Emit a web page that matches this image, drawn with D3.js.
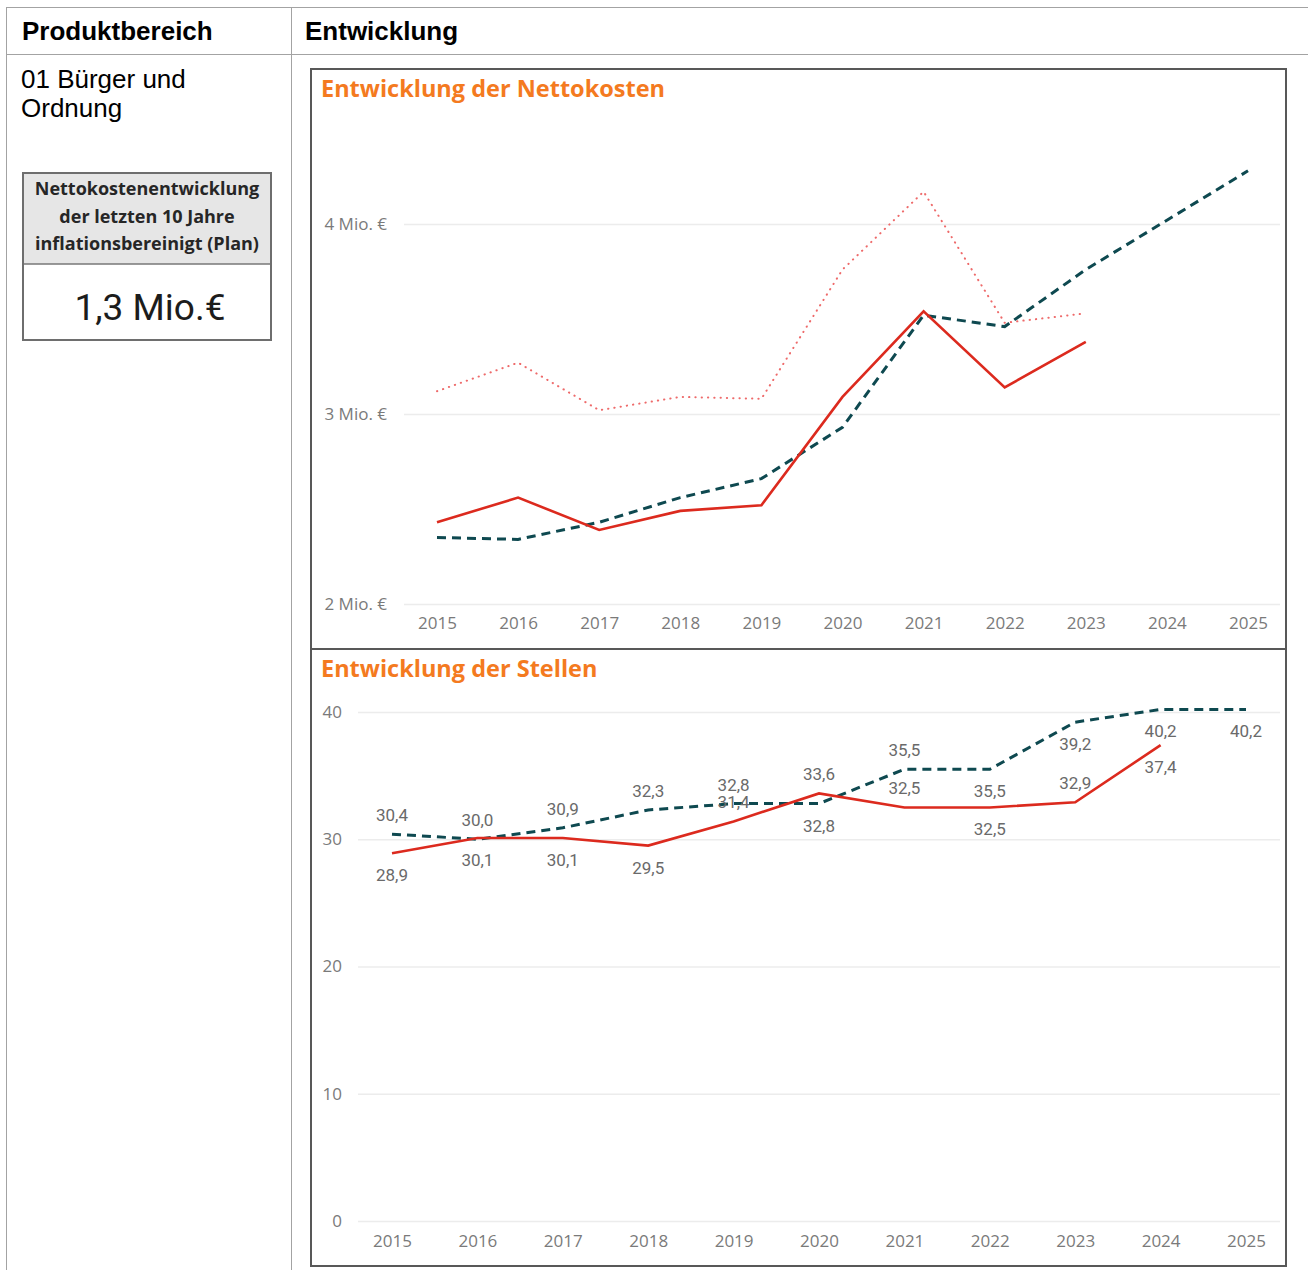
<!DOCTYPE html>
<html>
<head>
<meta charset="utf-8">
<script src="https://cdn.jsdelivr.net/npm/d3@7"></script>
<style>
  body { margin: 0; background: #fff; }
  svg { display: block; }
</style>
</head>
<body>
<div id="chart"></div>
<script>
// values

var years = ["2015", "2016", "2017", "2018", "2019", "2020", "2021", "2022", "2023", "2024", "2025"];

// Nettokosten in Mio. €
var kostenIst = [2.43, 2.56, 2.39, 2.49, 2.52, 3.09, 3.54, 3.14, 3.38];
var kostenPlan = [2.35, 2.34, 2.43, 2.56, 2.66, 2.93, 3.52, 3.46, 3.76, 4.02, 4.28];
var kostenInflation = [3.12, 3.27, 3.02, 3.09, 3.08, 3.76, 4.17, 3.48, 3.53];
var kostenTicks = [2, 3, 4];

// Stellen
var stellenIst = [28.9, 30.1, 30.1, 29.5, 31.4, 33.6, 32.5, 32.5, 32.9, 37.4];
var stellenPlan = [30.4, 30.0, 30.9, 32.3, 32.8, 32.8, 35.5, 35.5, 39.2, 40.2, 40.2];
var stellenTicks = [0, 10, 20, 30, 40];
// where the data labels sit relative to their point
var stellenIstLabelPos = ["below", "below", "below", "below", "above", "above", "above", "below", "above", "below"];
var stellenPlanLabelPos = ["above", "above", "above", "above", "above", "below", "above", "below", "below", "below", "below"];

var kpiTitle = ["Nettokostenentwicklung", "der letzten 10 Jahre", "inflationsbereinigt (Plan)"];
var kpiValue = "1,3 Mio.€";

var WIDTH = 1308, HEIGHT = 1270;
var RED = "#dc2a1e", TEAL = "#0e4950", PINK = "#ee6a6a", ORANGE = "#f47a20";
var GRID = "#ececec", AXIS_TEXT = "#7a7a7a";

var svg = d3.select("#chart").append("svg")
    .attr("width", WIDTH)
    .attr("height", HEIGHT);

// --- table around the charts ---
var tbl = svg.append("g").attr("stroke", "#a3a3a3").attr("stroke-width", 1);
tbl.append("line").attr("x1", 6).attr("x2", WIDTH).attr("y1", 7.5).attr("y2", 7.5);
tbl.append("line").attr("x1", 6).attr("x2", WIDTH).attr("y1", 54.5).attr("y2", 54.5);
tbl.append("line").attr("x1", 6.5).attr("x2", 6.5).attr("y1", 7).attr("y2", HEIGHT);
tbl.append("line").attr("x1", 291.5).attr("x2", 291.5).attr("y1", 7).attr("y2", HEIGHT);

svg.append("text").attr("x", 22).attr("y", 40)
    .style("font", "bold 26px 'Liberation Sans', Arial, sans-serif")
    .text("Produktbereich");
svg.append("text").attr("x", 305).attr("y", 40)
    .style("font", "bold 26px 'Liberation Sans', Arial, sans-serif")
    .text("Entwicklung");
svg.append("text").attr("x", 21).attr("y", 88)
    .style("font", "26px 'Liberation Sans', Arial, sans-serif")
    .text("01 Bürger und");
svg.append("text").attr("x", 21).attr("y", 117)
    .style("font", "26px 'Liberation Sans', Arial, sans-serif")
    .text("Ordnung");

// --- KPI card ---
var kpi = svg.append("g");
kpi.append("rect").attr("x", 23).attr("y", 173).attr("width", 248).attr("height", 91)
    .attr("fill", "#e6e6e6");
kpi.append("line").attr("x1", 23).attr("x2", 271).attr("y1", 264).attr("y2", 264)
    .attr("stroke", "#777").attr("stroke-width", 1.5);
kpi.append("rect").attr("x", 23).attr("y", 173).attr("width", 248).attr("height", 167)
    .attr("fill", "none").attr("stroke", "#6e6e6e").attr("stroke-width", 2);
kpi.selectAll("text.kt").data(kpiTitle).enter().append("text")
    .attr("class", "kt")
    .attr("x", 147)
    .attr("y", function (d, i) { return 195 + i * 27.5; })
    .attr("text-anchor", "middle")
    .attr("fill", "#262626")
    .style("font", "bold 18px 'Open Sans', sans-serif")
    .text(function (d) { return d; });
kpi.append("text").attr("x", 150).attr("y", 320)
    .attr("text-anchor", "middle")
    .attr("fill", "#1c1c1c")
    .style("font", "37px Roboto, sans-serif")
    .text(kpiValue);

// --- chart panels ---
svg.append("rect").attr("x", 311).attr("y", 69).attr("width", 975).attr("height", 580)
    .attr("fill", "none").attr("stroke", "#585858").attr("stroke-width", 2);
svg.append("rect").attr("x", 311).attr("y", 649).attr("width", 975).attr("height", 617)
    .attr("fill", "none").attr("stroke", "#585858").attr("stroke-width", 2);

var drawTitle = function (text, y) {
    svg.append("text").attr("x", 321).attr("y", y)
        .attr("fill", ORANGE)
        .style("font", "bold 23.5px 'Open Sans', sans-serif")
        .text(text);
};

var styleAxis = function (g) {
    g.select(".domain").remove();
    g.selectAll("text")
        .attr("fill", AXIS_TEXT)
        .style("font", "17px 'Open Sans', sans-serif");
};

// chart 1: Nettokosten
drawTitle("Entwicklung der Nettokosten", 97);

var x1 = d3.scalePoint().domain(years).range([437, 1248]);
var y1 = d3.scaleLinear().domain([2, 4]).range([604, 224]);

svg.append("g")
    .attr("transform", "translate(404,0)")
    .call(d3.axisLeft(y1).tickValues(kostenTicks).tickSize(-876).tickPadding(17)
        .tickFormat(function (d) { return d + " Mio. €"; }))
    .call(styleAxis)
    .call(function (g) { g.selectAll("line").attr("stroke", GRID).attr("stroke-width", 1.5); });

svg.append("g")
    .attr("transform", "translate(0,604)")
    .call(d3.axisBottom(x1).tickSize(0).tickPadding(13))
    .call(styleAxis);

var line1 = d3.line()
    .x(function (d, i) { return x1(years[i]); })
    .y(function (d) { return y1(d); });

svg.append("path").datum(kostenInflation)
    .attr("d", line1).attr("fill", "none")
    .attr("stroke", PINK).attr("stroke-width", 2)
    .attr("stroke-linecap", "round")
    .attr("stroke-dasharray", "0.3,6");
svg.append("path").datum(kostenPlan)
    .attr("d", line1).attr("fill", "none")
    .attr("stroke", TEAL).attr("stroke-width", 3)
    .attr("stroke-dasharray", "9,6");
svg.append("path").datum(kostenIst)
    .attr("d", line1).attr("fill", "none")
    .attr("stroke", RED).attr("stroke-width", 2.6)
    .attr("stroke-linejoin", "miter");

// chart 2: Stellen
drawTitle("Entwicklung der Stellen", 677);

var x2 = d3.scalePoint().domain(years).range([392, 1246]);
var y2 = d3.scaleLinear().domain([0, 40]).range([1221, 712]);

svg.append("g")
    .attr("transform", "translate(358,0)")
    .call(d3.axisLeft(y2).tickValues(stellenTicks).tickSize(-922).tickPadding(16))
    .call(styleAxis)
    .call(function (g) { g.selectAll("line").attr("stroke", GRID).attr("stroke-width", 1.5); });

svg.append("g")
    .attr("transform", "translate(0,1221)")
    .call(d3.axisBottom(x2).tickSize(0).tickPadding(14))
    .call(styleAxis);

var line2 = d3.line()
    .x(function (d, i) { return x2(years[i]); })
    .y(function (d) { return y2(d); });

svg.append("path").datum(stellenPlan)
    .attr("d", line2).attr("fill", "none")
    .attr("stroke", TEAL).attr("stroke-width", 3)
    .attr("stroke-dasharray", "9,6");
svg.append("path").datum(stellenIst)
    .attr("d", line2).attr("fill", "none")
    .attr("stroke", RED).attr("stroke-width", 2.6);

var fmt = function (v) { return d3.format(".1f")(v).replace(".", ","); };

var drawLabels = function (values, pos, cls) {
    svg.selectAll("text." + cls).data(values).enter().append("text")
        .attr("class", cls)
        .attr("x", function (d, i) { return x2(years[i]); })
        .attr("y", function (d, i) { return y2(d) + (pos[i] === "above" ? -13 : 28); })
        .attr("text-anchor", "middle")
        .attr("fill", "#6a6a6a")
        .style("font", "17px Roboto, sans-serif")
        .text(fmt);
};
drawLabels(stellenPlan, stellenPlanLabelPos, "lp");
drawLabels(stellenIst, stellenIstLabelPos, "li");
</script>
</body>
</html>
